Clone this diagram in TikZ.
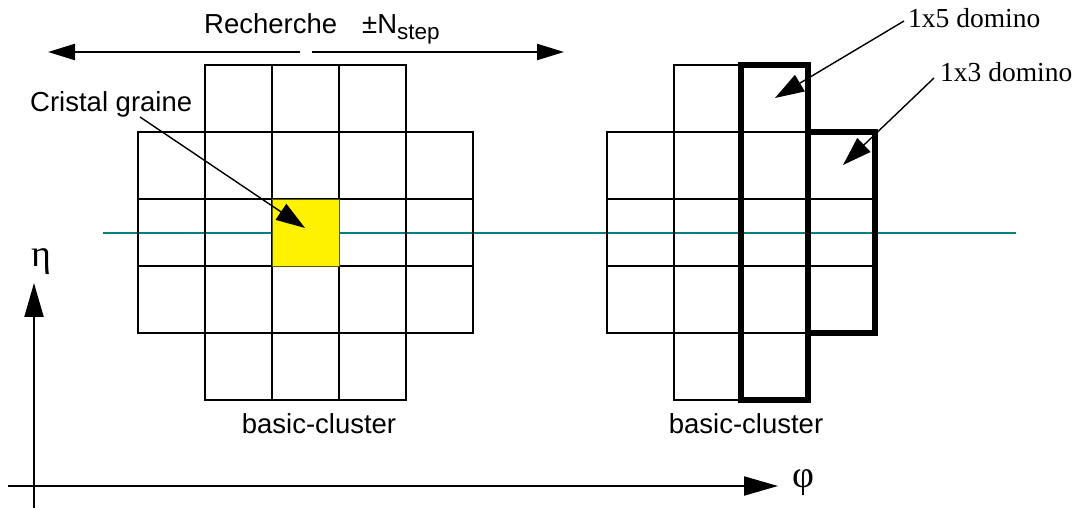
\documentclass[tikz,border=0pt]{standalone}
\usepackage{fontspec}
\setmainfont{Liberation Sans}
\newfontfamily\serifx{Liberation Serif}
\usetikzlibrary{arrows.meta}
\definecolor{tealline}{RGB}{0,128,128}
\definecolor{seedborder}{RGB}{90,90,0}
\begin{document}
\begin{tikzpicture}[x=1pt,y=-1pt,
  cell/.style={draw=black,line width=2.2pt},
  domino/.style={draw=black,line width=6.5pt},
  axisarrow/.style={line width=2.2pt,-{Triangle[length=34pt,width=19pt]}},
  toparrow/.style={line width=2.2pt,-{Triangle[length=27pt,width=16pt]}},
  leader/.style={line width=1.4pt,-{Triangle[length=29pt,width=19pt]}},
  lab/.style={inner sep=0pt,font=\fontsize{27.5}{30}\selectfont},
  serlab/.style={inner sep=0pt,font=\serifx\fontsize{27.5}{30}\selectfont},
  greek/.style={inner sep=0pt,font=\serifx\fontsize{38}{40}\selectfont}]
\useasboundingbox (0,0) rectangle (1079,510);

% teal centre line
\coordinate (tlA) at (103,233);
\coordinate (tlB) at (1016,233);
\draw[tealline,line width=2.2pt] (tlA) -- (tlB);

% left cluster
\foreach \r in {1,2,3}
  \foreach \c in {0,1,2,3,4}
    \draw[cell] (138+67*\c,65+67*\r) rectangle ++(67,67);
\foreach \r in {0,4}
  \foreach \c in {1,2,3}
    \draw[cell] (138+67*\c,65+67*\r) rectangle ++(67,67);
% seed crystal
\filldraw[fill=yellow,draw=seedborder,line width=1pt] (272,199.3) rectangle (339,266.3);

% right cluster
\foreach \r in {1,2,3}
  \foreach \c in {0,1,2,3}
    \draw[cell] (607+67*\c,65+67*\r) rectangle ++(67,67);
\foreach \r in {0,4}
  \foreach \c in {1,2}
    \draw[cell] (607+67*\c,65+67*\r) rectangle ++(67,67);
\draw[domino] (741,65) rectangle (808,400);
\draw[domino] (808,132) rectangle (875,333);

% axes
\coordinate (etaS) at (34,508);
\coordinate (etaE) at (34,283);
\coordinate (phiS) at (8,486);
\coordinate (phiE) at (778,486);
\draw[axisarrow] (etaS) -- (etaE);
\draw[axisarrow] (phiS) -- (phiE);
\node[greek] (eta) at (41,262) {η};
\node[greek] (phi) at (803,483) {φ};

% search range arrow
\coordinate (rL0) at (300,52);
\coordinate (rL1) at (48,52);
\coordinate (rR0) at (312,52);
\coordinate (rR1) at (564,52);
\draw[toparrow] (rL0) -- (rL1);
\draw[toparrow] (rR0) -- (rR1);
\node[lab,anchor=base west] (rech) at (204,34) {Recherche};
\node[lab,anchor=base west] (nstep) at (362,34) {±N\raisebox{-5.5pt}{\fontsize{22.5}{22.5}\selectfont step}};

% labels
\node[lab,anchor=base west] (seed) at (30,112) {Cristal graine};
\coordinate (seedS) at (140,117);
\coordinate (seedE) at (305,228);
\draw[leader] (seedS) -- (seedE);

\node[lab,anchor=base] (bcL) at (319,433) {basic-cluster};
\node[lab,anchor=base] (bcR) at (746,433) {basic-cluster};

\node[serlab,anchor=base west] (d5) at (908,28) {1x5 domino};
\node[serlab,anchor=base west] (d3) at (940,82) {1x3 domino};
\coordinate (d5S) at (904,21);
\coordinate (d5E) at (775,98);
\coordinate (d3S) at (934,78);
\coordinate (d3E) at (843,165);
\draw[leader] (d5S) -- (d5E);
\draw[leader] (d3S) -- (d3E);
\end{tikzpicture}
\end{document}
